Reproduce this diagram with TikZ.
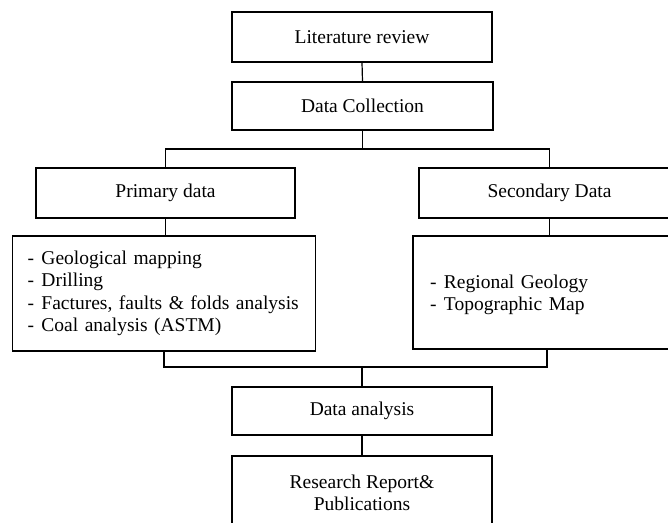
\documentclass[tikz,border=0pt]{standalone}
\usepackage{fontspec}
\setmainfont{Liberation Serif}
\newcommand\diagfont{\fontsize{19.5}{22.5}\selectfont}
\newcommand\dashitem{\makebox[14pt][l]{-}}
\begin{document}
\begin{tikzpicture}[x=1pt,y=-1pt,
  box/.style={draw, line width=1.2pt, inner sep=0pt, align=center, font=\diagfont},
  conn/.style={line width=1.2pt}]
\useasboundingbox (0,0) rectangle (668,522);
\clip (0,0) rectangle (668,522);
\node[box, minimum width=260pt, minimum height=50pt] (lit) at (362,37) {Literature review};
\node[box, minimum width=261pt, minimum height=48pt] (dc) at (362.5,106) {Data Collection};
\node[box, minimum width=259pt, minimum height=50pt] (prim) at (165.5,193) {Primary data};
\node[box, minimum width=261pt, minimum height=50pt] (sec) at (549.5,193) {Secondary Data};
\node[box, align=left, text width=273pt, inner xsep=15pt, minimum height=115pt] (plist) at (164,293.5)
  {\dashitem Geological mapping\\ \dashitem Drilling\\ \dashitem Factures, faults \& folds analysis\\ \dashitem Coal analysis (ASTM)};
\node[box, align=left, text width=234pt, inner xsep=17pt, minimum height=113pt] (slist) at (547,292.5)
  {\rule{0pt}{18pt}\dashitem Regional Geology\\ \dashitem Topographic Map};
\node[box, minimum width=260pt, minimum height=48pt] (ana) at (362,411) {Data analysis};
\node[box, minimum width=260pt, minimum height=74pt] (res) at (362,493) {Research Report\&\\Publications};
\coordinate (split) at (362.5,149);
\coordinate (join) at (362,367);
\draw[conn] (lit.south) -- (dc.north);
\draw[conn] (dc.south) -- (split);
\draw[conn] (prim.north) |- (split) -| (sec.north);
\draw[conn] (prim.south) -- (plist.north -| prim.south);
\draw[conn] (sec.south) -- (slist.north -| sec.south);
\draw[conn] (plist.south) |- (join) -| (slist.south);
\draw[conn] (join) -- (ana.north);
\draw[conn] (ana.south) -- (res.north);
\end{tikzpicture}
\end{document}
